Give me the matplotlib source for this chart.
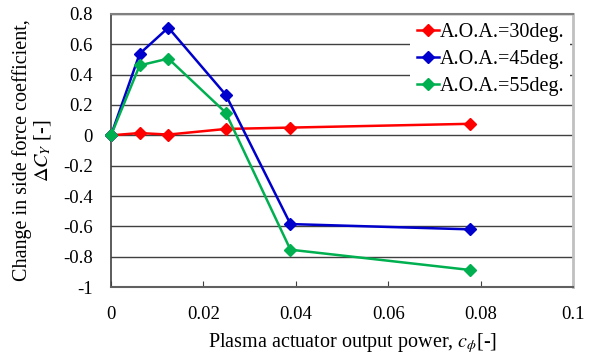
import matplotlib
matplotlib.use("Agg")
import matplotlib.pyplot as plt

power = [0.0, 0.0062, 0.0124, 0.0248, 0.0388, 0.0777]
aoa30 = [0.0, 0.015, 0.005, 0.042, 0.051, 0.076]
aoa45 = [0.0, 0.538, 0.71, 0.268, -0.585, -0.62]
aoa55 = [0.0, 0.461, 0.506, 0.15, -0.754, -0.888]
labels = ["A.O.A.=30deg.", "A.O.A.=45deg.", "A.O.A.=55deg."]
xticks = [0, 0.02, 0.04, 0.06, 0.08, 0.1]
xticklabels = ["0", "0.02", "0.04", "0.06", "0.08", "0.1"]
yticks = [0.8, 0.6, 0.4, 0.2, 0, -0.2, -0.4, -0.6, -0.8, -1]
yticklabels = ["0.8", "0.6", "0.4", "0.2", "0", "-0.2", "-0.4", "-0.6", "-0.8", "-1"]

plt.rcParams['font.family'] = ['Liberation Serif', 'DejaVu Serif']
plt.rcParams['mathtext.fontset'] = 'stix'

fig = plt.figure(figsize=(5.98, 3.56), dpi=100)
ax = fig.add_axes([0.1856, 0.1938, 0.959 - 0.1856, 0.9607 - 0.1938])

colors = ['#ff0000', '#0000cc', '#00b050']
for ys, c, lab in zip([aoa30, aoa45, aoa55], colors, labels):
    ax.plot(power, ys, color=c, lw=1.8, marker='D', ms=6, mec=c, mfc=c, label=lab,
            zorder=3, clip_on=False)

ax.set_xlim(0, 0.1)
ax.set_ylim(-1, 0.8)
ax.set_xticks(xticks)
ax.set_xticklabels(xticklabels, fontfamily='Liberation Serif')
ax.set_yticks(yticks)
ax.set_yticklabels(yticklabels, fontfamily='Liberation Serif')
ax.grid(axis='y', color='#404040', lw=1.0)
ax.set_axisbelow(True)
ax.tick_params(axis='both', direction='in', labelsize=13.5, length=4, color='#404040')
ax.tick_params(axis='x', pad=14)
ax.tick_params(axis='y', length=0, pad=13)

ax.spines['top'].set_color('#808080')
ax.spines['top'].set_linewidth(1.5)
ax.spines['right'].set_color('#c0c0c0')
ax.spines['right'].set_linewidth(2)
ax.spines['left'].set_color('#404040')
ax.spines['left'].set_linewidth(1.2)
ax.spines['bottom'].set_color('#606060')
ax.spines['bottom'].set_linewidth(1.5)

ax.set_xlabel('Plasma actuator output power, $c_\\phi$[-]', fontsize=14.5)
ax.xaxis.set_label_coords(0.522, -0.16)
ax.set_ylabel('Change in side force coefficient,\n$\\Delta C_Y$ [-]', fontsize=14.5, labelpad=7,
              linespacing=1.0)

leg = ax.legend(loc='upper right', fontsize=14.5, frameon=True, fancybox=False,
                edgecolor='none', facecolor='white', framealpha=1,
                borderaxespad=0.15, handlelength=1.1, handletextpad=0.05,
                labelspacing=0.4, borderpad=0.3)
leg.set_zorder(5)

fig.savefig('out.png', dpi=100)
